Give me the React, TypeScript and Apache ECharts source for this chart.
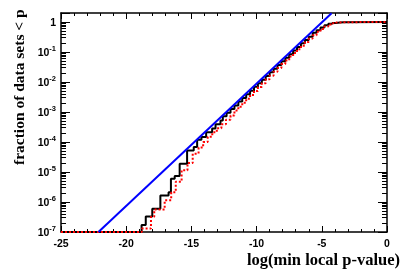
import React, { useEffect, useRef } from 'react';
import * as echarts from 'echarts';

// x axis: log(min local p-value); y axis: fraction of data sets < p (log scale)
const xTickValues = [-25, -20, -15, -10, -5, 0];
const yDecadeExponents = [-7, -6, -5, -4, -3, -2, -1, 0];
const yMinorMultipliers = [2, 3, 4, 5, 6, 7, 8, 9];

// blue reference line (straight in log-log)
const blueX = [-22.13, -4.25];
const blueY = [1e-7, 1.95];

// black solid step histogram (x where the step rises, value after rise)
const blackX = [-25, -18.82, -18.5, -18.0, -17.38, -16.75, -16.57, -16.28, -15.9, -15.33, -14.82, -14.56, -14.23, -13.87, -13.41, -13.15, -12.77, -12.59, -12.3, -12.0, -11.7, -11.4, -11.1, -10.8, -10.5, -10.2, -9.9, -9.6, -9.3, -9.0, -8.7, -8.4, -8.1, -7.8, -7.5, -7.2, -6.9, -6.6, -6.3, -6.0, -5.7, -5.4, -5.1, -4.8, -4.5, -4.2, -3.9, -3.6, -3.3, 0];
const blackY = [1e-7, 1.7e-7, 3.3e-7, 6.0e-7, 1.66e-6, 2.1e-6, 6.0e-6, 7.4e-6, 1.9e-5, 5.2e-5, 6.8e-5, 1.2e-4, 1.48e-4, 2.1e-4, 2.8e-4, 3.9e-4, 5.2e-4, 7.2e-4, 9.5e-4, 1.26e-3, 1.66e-3, 2.24e-3, 2.95e-3, 3.9e-3, 5.1e-3, 6.9e-3, 9.1e-3, 1.2e-2, 1.58e-2, 2.1e-2, 2.75e-2, 3.7e-2, 4.9e-2, 6.5e-2, 8.5e-2, 0.112, 0.148, 0.195, 0.25, 0.32, 0.436, 0.537, 0.66, 0.776, 0.87, 0.933, 0.973, 0.991, 1.0, 1.0];

// red dotted step histogram
const redX = [-25, -18.8, -18.1, -17.85, -17.05, -16.55, -16.2, -15.75, -15.3, -14.9, -14.45, -14.1, -13.75, -13.4, -13.05, -12.7, -12.35, -12.0, -11.7, -11.4, -11.1, -10.8, -10.5, -10.2, -9.9, -9.6, -9.3, -9.0, -8.7, -8.4, -8.1, -7.8, -7.5, -7.2, -6.9, -6.6, -6.3, -6.0, -5.7, -5.4, -5.1, -4.8, -4.5, -4.2, -3.9, -3.6, -3.3, 0];
const redY = [1e-7, 1.3e-7, 3.2e-7, 5.6e-7, 1.15e-6, 2.1e-6, 4.7e-6, 1.15e-5, 2.0e-5, 4.1e-5, 6.5e-5, 1.0e-4, 1.5e-4, 2.1e-4, 2.9e-4, 3.9e-4, 5.5e-4, 7.6e-4, 1.12e-3, 1.51e-3, 2.04e-3, 2.75e-3, 3.7e-3, 5.0e-3, 6.8e-3, 9.1e-3, 1.23e-2, 1.62e-2, 2.19e-2, 2.95e-2, 3.98e-2, 5.25e-2, 7.1e-2, 9.3e-2, 0.123, 0.162, 0.214, 0.28, 0.36, 0.47, 0.59, 0.71, 0.83, 0.91, 0.966, 0.989, 1.0, 1.0];

const xTitle = 'log(min local p-value)';
const yTitle = 'fraction of data sets < p';

export default function App() {
  const ref = useRef<HTMLDivElement>(null);
  useEffect(() => {
    const chart = echarts.init(ref.current!, null, { renderer: 'svg' });
    const toLog = (xs: number[], ys: number[]) => xs.map((x, i) => [x, Math.log10(ys[i])]);
    const yMin = yDecadeExponents[0];
    const yMax = Math.log10(2);
    const minorTicks: number[] = [];
    for (const e of yDecadeExponents) {
      for (const m of yMinorMultipliers) {
        const v = e + Math.log10(m);
        if (v < yMax - 1e-6) minorTicks.push(v);
      }
    }
    const frame = { color: '#000', width: 1.5 };
    const tickStyle = { color: '#000', width: 1 };
    const labelFont = { color: '#000', fontFamily: 'Liberation Sans', fontWeight: 'bold' as const, fontSize: 10.5 };
    const xBase = (pos: string, showLabel: boolean) => ({
      type: 'value',
      position: pos,
      min: xTickValues[0],
      max: xTickValues[xTickValues.length - 1],
      interval: 5,
      axisLine: { show: true, onZero: false, lineStyle: frame },
      axisTick: { show: true, inside: true, length: 6, lineStyle: tickStyle },
      minorTick: { show: true, splitNumber: 5, length: 3, lineStyle: tickStyle },
      splitLine: { show: false },
      minorSplitLine: { show: false },
      axisLabel: { show: showLabel, margin: 5, ...labelFont },
    });
    const yMajor = (pos: string, showLabel: boolean) => ({
      type: 'value',
      position: pos,
      min: yMin,
      max: yMax,
      interval: 1,
      axisLine: { show: true, onZero: false, lineStyle: frame },
      axisTick: { show: true, inside: true, length: 9, lineStyle: tickStyle },
      splitLine: { show: false },
      axisLabel: {
        show: showLabel,
        margin: 5,
        formatter: (v: number) => {
          if (Math.abs(v) < 1e-9) return '{b|1}';
          if (Number.isInteger(v) && v < 0) return '{b|10}{s|' + v + '}';
          return '';
        },
        rich: {
          b: { ...labelFont, fontSize: 10.5, lineHeight: 12 },
          s: { ...labelFont, fontSize: 7.5, lineHeight: 12, padding: [0, 0, 7, 0] },
        },
      },
    });
    const yMinor = (pos: string) => ({
      type: 'value',
      position: pos,
      min: yMin,
      max: yMax,
      axisLine: { show: false, onZero: false },
      axisTick: { show: true, inside: true, length: 5, lineStyle: tickStyle, customValues: minorTicks },
      axisLabel: { show: false },
      splitLine: { show: false },
    });
    chart.setOption({
      animation: false,
      grid: { left: 61, right: 20, top: 13, bottom: 44, containLabel: false },
      xAxis: [xBase('bottom', true), xBase('top', false)],
      yAxis: [yMajor('left', true), yMinor('left'), yMajor('right', false), yMinor('right')],
      series: [
        {
          type: 'line', xAxisIndex: 0, yAxisIndex: 0, step: 'end', symbol: 'none',
          data: toLog(blackX, blackY),
          lineStyle: { color: '#000', width: 2 },
        },
        {
          type: 'line', xAxisIndex: 0, yAxisIndex: 0, step: 'end', symbol: 'none',
          data: toLog(redX, redY),
          lineStyle: { color: '#ff0000', width: 2, type: [2, 2] },
        },
        {
          type: 'line', xAxisIndex: 0, yAxisIndex: 0, symbol: 'none',
          data: toLog(blueX, blueY),
          lineStyle: { color: '#0000ff', width: 2 },
        },
      ],
      graphic: [
        {
          type: 'text', x: 400, y: 259,
          style: { text: xTitle, textAlign: 'right', textVerticalAlign: 'middle', fill: '#000', font: 'bold 16.5px "Liberation Serif"' },
        },
        {
          type: 'text', x: 18, y: 165, rotation: Math.PI / 2,
          style: { text: yTitle, textAlign: 'left', textVerticalAlign: 'middle', fill: '#000', font: 'bold 15.5px "Liberation Serif"' },
        },
      ],
    });
    return () => chart.dispose();
  }, []);
  return <div ref={ref} style={{ position: 'fixed', left: 0, top: 0, width: 407, height: 276 }} />;
}
